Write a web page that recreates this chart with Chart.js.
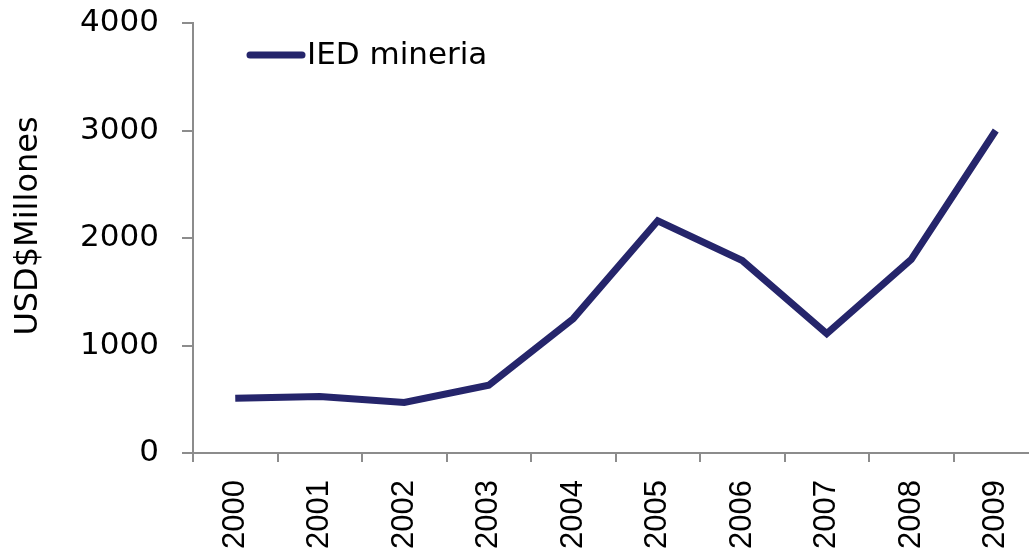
<!DOCTYPE html>
<html>
<head>
<meta charset="utf-8">
<script src="https://cdn.jsdelivr.net/npm/chart.js@4/dist/chart.umd.min.js"></script>
<style>
  html, body { margin: 0; padding: 0; background: #fff; overflow: hidden; }
  #wrap { width: 1060px; height: 553px; }
</style>
</head>
<body>
<div id="wrap"><canvas id="grafico" width="1060" height="553"></canvas></div>
<script>
// datos
const anios = ['2000', '2001', '2002', '2003', '2004', '2005', '2006', '2007', '2008', '2009'];
const iedMineria = [510, 525, 470, 630, 1250, 2160, 1790, 1110, 1800, 3000];
const ticksY = [0, 1000, 2000, 3000, 4000];

const fuente = 'DejaVu Sans';
const gris = '#8c8c8c';
const azul = '#25256b';

// leyenda y titulo del eje Y dibujados a mano
const textos = {
  id: 'textos',
  afterDraw(chart) {
    const ctx = chart.ctx;
    const ds = chart.data.datasets[0];
    ctx.save();
    ctx.strokeStyle = ds.borderColor;
    ctx.lineWidth = 7;
    ctx.lineCap = 'round';
    ctx.beginPath();
    ctx.moveTo(250, 55);
    ctx.lineTo(302, 55);
    ctx.stroke();
    ctx.fillStyle = '#000';
    ctx.font = '31px "' + fuente + '"';
    ctx.textBaseline = 'middle';
    ctx.fillText(ds.label, 307, 56);

    // titulo eje Y
    ctx.translate(29, 226);
    ctx.rotate(-Math.PI / 2);
    ctx.font = '32px "' + fuente + '"';
    ctx.textAlign = 'center';
    ctx.fillText('USD$Millones', 0, 0);
    ctx.restore();
  }
};

new Chart(document.getElementById('grafico'), {
  type: 'line',
  data: {
    labels: anios,
    datasets: [{
      label: 'IED mineria',
      data: iedMineria,
      borderColor: azul,
      backgroundColor: azul,
      borderWidth: 7,
      pointRadius: 0,
      tension: 0,
      borderJoinStyle: 'miter'
    }]
  },
  options: {
    responsive: false,
    animation: false,
    layout: { padding: { top: 23, right: 22, left: 0, bottom: 0 } },
    plugins: {
      legend: { display: false },
      tooltip: { enabled: false }
    },
    scales: {
      x: {
        type: 'category',
        offset: true,
        grid: {
          offset: true,
          drawOnChartArea: false,
          drawTicks: true,
          tickLength: 9,
          color: gris,
          lineWidth: 2
        },
        border: { display: true, color: gris, width: 2 },
        ticks: {
          color: '#000',
          font: { family: 'Liberation Sans', size: 31 },
          minRotation: 90,
          maxRotation: 90,
          padding: 18,
          autoSkip: false
        },
        afterFit(scale) { scale.height = 100; }
      },
      y: {
        min: 0,
        max: 4000,
        afterBuildTicks(scale) { scale.ticks = ticksY.map(v => ({ value: v })); },
        grid: {
          drawOnChartArea: false,
          drawTicks: true,
          tickLength: 11,
          color: gris,
          lineWidth: 2
        },
        border: { display: true, color: gris, width: 2 },
        ticks: {
          color: '#000',
          font: { family: fuente, size: 31 },
          padding: 23,
          callback: v => String(v)
        },
        afterFit(scale) {
          scale.width = 193;
          scale.paddingTop = 0;
          scale.paddingBottom = 0;
        }
      }
    }
  },
  plugins: [textos]
});
</script>
</body>
</html>
